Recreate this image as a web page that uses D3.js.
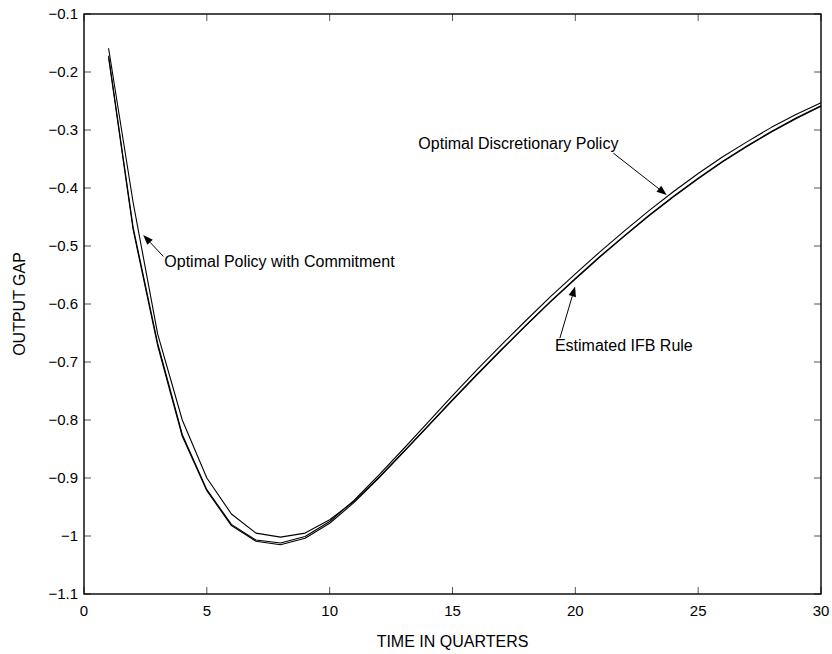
<!DOCTYPE html>
<html>
<head>
<meta charset="utf-8">
<script src="https://cdn.jsdelivr.net/npm/d3@7"></script>
<style>
  body { margin: 0; background: #fff; }
  text { font-family: "Liberation Sans", Arial, Helvetica, sans-serif; fill: #000; }
</style>
</head>
<body>
<svg id="chart" width="832" height="654"></svg>
<script>
// Output gap response (quarters after the shock)
const quarters = [1, 2, 3, 4, 5, 6, 7, 8, 9, 10, 11, 12, 13, 14, 15,
                  16, 17, 18, 19, 20, 21, 22, 23, 24, 25, 26, 27, 28, 29, 30];

const commitment = [-0.159, -0.425, -0.652, -0.800, -0.900, -0.962, -0.995, -1.002, -0.995, -0.972,
                    -0.940, -0.899, -0.855, -0.810, -0.765, -0.721, -0.678, -0.636, -0.595, -0.556,
                    -0.518, -0.482, -0.447, -0.414, -0.383, -0.354, -0.327, -0.302, -0.279, -0.258];

const discretion = [-0.172, -0.468, -0.668, -0.825, -0.920, -0.980, -1.007, -1.012, -1.001, -0.975,
                    -0.938, -0.895, -0.850, -0.804, -0.758, -0.713, -0.670, -0.628, -0.587, -0.548,
                    -0.510, -0.474, -0.439, -0.406, -0.375, -0.346, -0.320, -0.295, -0.273, -0.253];

const ifbRule = [-0.175, -0.472, -0.672, -0.828, -0.922, -0.982, -1.009, -1.015, -1.004, -0.978,
                 -0.942, -0.900, -0.856, -0.811, -0.766, -0.722, -0.679, -0.637, -0.596, -0.557,
                 -0.519, -0.483, -0.448, -0.415, -0.384, -0.355, -0.328, -0.303, -0.280, -0.259];

const xTicks = [0, 5, 10, 15, 20, 25, 30];
const yTicks = [-1.1, -1.0, -0.9, -0.8, -0.7, -0.6, -0.5, -0.4, -0.3, -0.2, -0.1];
const yTickLabels = ["\u22121.1", "\u22121", "\u22120.9", "\u22120.8", "\u22120.7", "\u22120.6",
                     "\u22120.5", "\u22120.4", "\u22120.3", "\u22120.2", "\u22120.1"];

// Callouts in data units: arrow tip, arrow tail, text baseline start
const callouts = [
  { text: "Optimal Policy with Commitment", tip: [2.41, -0.481], tail: [3.23, -0.518], at: [3.27, -0.536] },
  { text: "Optimal Discretionary Policy",   tip: [23.72, -0.412], tail: [21.55, -0.340], at: [13.61, -0.332] },
  { text: "Estimated IFB Rule",             tip: [19.99, -0.570], tail: [19.37, -0.659], at: [19.17, -0.6805] }
];

const W = 832, H = 654;
const margin = { left: 84, right: 11, top: 14, bottom: 60 };
const svg = d3.select("#chart");

const x = d3.scaleLinear().domain([0, 30]).range([margin.left, W - margin.right]);
const y = d3.scaleLinear().domain([-1.1, -0.1]).range([H - margin.bottom, margin.top]);

const x0 = x.range()[0], x1 = x.range()[1];
const y0 = y.range()[0], y1 = y.range()[1];

// Series lines
const line = d3.line().x((d, i) => x(quarters[i])).y(d => y(d));
[commitment, discretion, ifbRule].forEach(series => {
  svg.append("path")
    .datum(series)
    .attr("d", line)
    .attr("fill", "none")
    .attr("stroke", "#000")
    .attr("stroke-width", 1.1)
    .attr("stroke-linejoin", "round");
});

// Inward tick marks on all four sides
const tickLen = 7;
const ticks = svg.append("g").attr("stroke", "#555").attr("stroke-width", 1);
xTicks.forEach(t => {
  ticks.append("line").attr("x1", x(t)).attr("x2", x(t)).attr("y1", y0).attr("y2", y0 - tickLen);
  ticks.append("line").attr("x1", x(t)).attr("x2", x(t)).attr("y1", y1).attr("y2", y1 + tickLen);
});
yTicks.forEach(t => {
  ticks.append("line").attr("x1", x0).attr("x2", x0 + tickLen).attr("y1", y(t)).attr("y2", y(t));
  ticks.append("line").attr("x1", x1).attr("x2", x1 - tickLen).attr("y1", y(t)).attr("y2", y(t));
});

// Axes box
svg.append("rect")
  .attr("x", x0).attr("y", y1)
  .attr("width", x1 - x0).attr("height", y0 - y1)
  .attr("fill", "none").attr("stroke", "#000").attr("stroke-width", 1.4);

// Tick labels
svg.append("g").selectAll("text").data(xTicks).join("text")
  .attr("x", d => x(d)).attr("y", y0 + 21.5)
  .attr("text-anchor", "middle").attr("font-size", 15)
  .text(d => d);

svg.append("g").selectAll("text").data(yTicks).join("text")
  .attr("x", x0 - 6).attr("y", d => y(d)).attr("dy", "0.35em")
  .attr("text-anchor", "end").attr("font-size", 15)
  .text((d, i) => yTickLabels[i]);

// Axis titles
svg.append("text")
  .attr("x", (x0 + x1) / 2).attr("y", H - 7.5)
  .attr("text-anchor", "middle").attr("font-size", 16)
  .text("TIME IN QUARTERS");

svg.append("text")
  .attr("transform", `translate(25,${(y0 + y1) / 2}) rotate(-90)`)
  .attr("text-anchor", "middle").attr("font-size", 16)
  .text("OUTPUT GAP");

// Callout arrows and text
const headLen = 10, headHalf = 3.8;
callouts.forEach(c => {
  const tx = x(c.tip[0]), ty = y(c.tip[1]);
  const sx = x(c.tail[0]), sy = y(c.tail[1]);
  const dx = tx - sx, dy = ty - sy, len = Math.hypot(dx, dy);
  const ux = dx / len, uy = dy / len;
  const bx = tx - ux * headLen, by = ty - uy * headLen;
  svg.append("line")
    .attr("x1", sx).attr("y1", sy).attr("x2", bx).attr("y2", by)
    .attr("stroke", "#000").attr("stroke-width", 1);
  svg.append("path")
    .attr("d", `M${tx},${ty}L${bx - uy * headHalf},${by + ux * headHalf}L${bx + uy * headHalf},${by - ux * headHalf}Z`)
    .attr("fill", "#000");
  svg.append("text")
    .attr("x", x(c.at[0])).attr("y", y(c.at[1]))
    .attr("font-size", 16)
    .text(c.text);
});
</script>
</body>
</html>
